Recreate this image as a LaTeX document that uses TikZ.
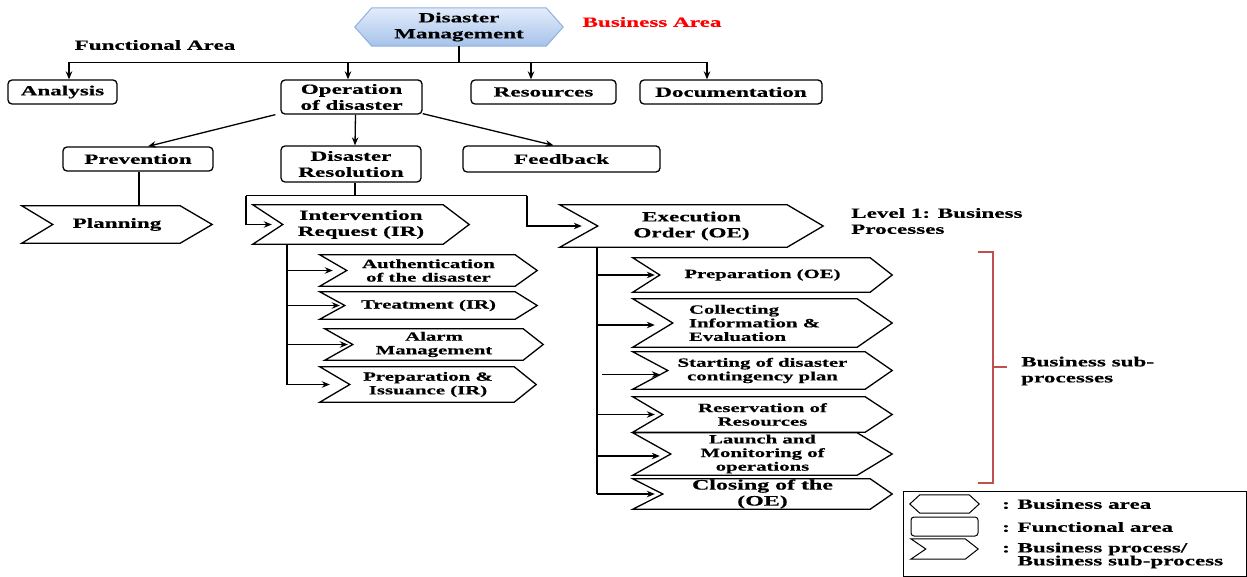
\documentclass[tikz,border=0pt]{standalone}
\usepackage{fontspec}
\setmainfont{Liberation Serif}[FakeStretch=1.65, BoldFeatures={FakeBold=0.5}]
\usetikzlibrary{arrows.meta,backgrounds}
\newcommand\mainf{\fontsize{14}{16}\selectfont\bfseries}
\newcommand\subf{\fontsize{12.6}{13.6}\selectfont\bfseries}
\newcommand\bigsubf{\fontsize{14.5}{16}\selectfont\bfseries}
\newcommand\legf{\fontsize{14}{13}\selectfont\bfseries}
\definecolor{hexfillA}{HTML}{E3EDFB}
\definecolor{hexfillB}{HTML}{A6C2EA}
\definecolor{hexline}{HTML}{8FB1DE}
\definecolor{brk}{HTML}{C0504D}
% chevron outline around a node: name, notch depth, tip depth
\newcommand\chevpath[3]{%
  \draw[shp] (#1.north west) -- ([xshift=-#3]#1.north east) -- (#1.east)
    -- ([xshift=-#3]#1.south east) -- (#1.south west) -- ([xshift=#2]#1.west) -- cycle;}
% hexagon outline around a node: name, depth, style
\newcommand\hexpath[3]{%
  \draw[#3] ([xshift=#2]#1.north west) -- ([xshift=-#2]#1.north east) -- (#1.east)
    -- ([xshift=-#2]#1.south east) -- ([xshift=#2]#1.south west) -- (#1.west) -- cycle;}
\tikzset{
  shp/.style={draw=black, line width=1.3pt, line join=miter},
  fbox/.style={draw=black, line width=1.3pt, rounded corners=4pt, align=center, inner sep=0pt, font=\mainf},
  pbox/.style={align=center, inner sep=0pt, font=\mainf},
  sbox/.style={align=center, inner sep=0pt, font=\subf},
  conn/.style={draw=black, line width=1.3pt},
  arr/.style={conn, -{Stealth[length=8pt,width=6.5pt]}},
  lbl/.style={inner sep=0pt, font=\mainf}
}
\begin{document}
\begin{tikzpicture}[x=1pt,y=-1pt]
\useasboundingbox (0,0) rectangle (1247,577);

% business area
\node[pbox, minimum width=208, minimum height=38] (dm) at (459,27) {Disaster\\Management};
\begin{scope}[on background layer]
  \hexpath{dm}{17}{top color=hexfillA, bottom color=hexfillB, draw=hexline, line width=1pt}
\end{scope}
\node[lbl, text=red] (balbl) at (652,22) {Business Area};
\node[lbl] (falbl) at (155,45) {Functional Area};

% functional areas
\node[fbox, minimum width=109, minimum height=24] (analysis) at (62.5,92) {Analysis};
\node[fbox, minimum width=141, minimum height=34] (oper) at (351.5,97) {Operation\\of disaster};
\node[fbox, minimum width=145, minimum height=24] (res) at (543.5,92) {Resources};
\node[fbox, minimum width=182, minimum height=24] (doc) at (731,92) {Documentation};

\node[fbox, minimum width=150, minimum height=24] (prev) at (138,159) {Prevention};
\node[fbox, minimum width=140, minimum height=36] (dres) at (351,164) {Disaster\\Resolution};
\node[fbox, minimum width=197, minimum height=26] (feed) at (561.5,159) {Feedback};

% connectors from business area
\draw[conn] (dm.south) -- ++(0,16) coordinate (dmj);
\draw[conn] ([xshift=6.5]analysis.north |- dmj) -- ([xshift=-24]doc.north |- dmj);
\draw[arr] ([xshift=6.5]analysis.north |- dmj) -- ([xshift=6.5]analysis.north);
\draw[arr] ([xshift=-3.5]oper.north |- dmj) -- ([xshift=-3.5]oper.north);
\draw[arr] ([xshift=-12.5]res.north |- dmj) -- ([xshift=-12.5]res.north);
\draw[arr] ([xshift=-24]doc.north |- dmj) -- ([xshift=-24]doc.north);

% operation of disaster
\draw[arr] ([xshift=-5]oper.south west) -- ([xshift=10]prev.north);
\draw[arr] ([xshift=4]oper.south) -- ([xshift=4]dres.north);
\draw[arr] ([yshift=1]oper.south east) -- ([xshift=-8]feed.north);

% business processes
\node[pbox, minimum width=190, minimum height=37] (plan) at (117,224.5) {Planning};
\chevpath{plan}{31}{32}
\node[pbox, minimum width=216, minimum height=39] (ir) at (361,224.5) {Intervention\\Request (IR)};
\chevpath{ir}{30}{26}
\node[pbox, minimum width=263, minimum height=42] (oe) at (691.5,226) {Execution\\Order (OE)};
\chevpath{oe}{38}{36}

\draw[conn] (prev.south -| 139,0) -- (plan.north -| 139,0);
\draw[conn] ([xshift=4]dres.south) -- ++(0,13) coordinate (drj);
\draw[arr] ([xshift=-109]drj) |- ([xshift=19]ir.west);
\draw[arr] ([xshift=172]drj) |- ([xshift=22]oe.west);
\draw[conn] ([xshift=-109]drj) -- ([xshift=172]drj);

% IR sub-processes
\node[sbox, minimum width=217, minimum height=31] (auth) at (428.5,270.5) {Authentication\\of the disaster};
\chevpath{auth}{27}{22}
\node[sbox, minimum width=217, minimum height=27] (treat) at (428.5,305.5) {Treatment (IR)};
\chevpath{treat}{25}{22}
\node[sbox, minimum width=218, minimum height=31] (alarm) at (434,344.5) {Alarm\\Management};
\chevpath{alarm}{28}{20}
\node[sbox, minimum width=216, minimum height=35] (prepir) at (428,384.5) {Preparation \&\\Issuance (IR)};
\chevpath{prepir}{30}{22}

\coordinate (irt) at ([xshift=-74]ir.south);
\draw[conn] (irt) -- (irt |- prepir.west);
\draw[arr] (irt |- auth.west) -- ([xshift=13]auth.west);
\draw[arr] (irt |- treat.west) -- ([xshift=20]treat.west);
\draw[arr] (irt |- alarm.west) -- ([xshift=23]alarm.west);
\draw[arr] (irt |- prepir.west) -- ([xshift=10]prepir.west);

% OE sub-processes
\node[sbox, minimum width=259, minimum height=34] (prepoe) at (762.5,275) {Preparation (OE)};
\chevpath{prepoe}{27}{22}
\node[inner sep=0pt, minimum width=259, minimum height=48] (coll) at (762.5,323) {};
\chevpath{coll}{40}{35}
\node[sbox, align=left] (colltext) at ([xshift=-8]coll.center) {Collecting\\Information \&\\Evaluation};
\node[sbox, minimum width=259, minimum height=37] (start) at (762.5,370.5) {Starting of disaster\\contingency plan};
\chevpath{start}{35}{27}
\node[sbox, minimum width=259, minimum height=35] (resv) at (762.5,414.5) {Reservation of\\Resources};
\chevpath{resv}{30}{27}
\node[sbox, minimum width=259, minimum height=42] (launch) at (762.5,454) {Launch and\\Monitoring of\\operations};
\chevpath{launch}{38}{35}
\node[sbox, font=\bigsubf, minimum width=259, minimum height=30] (closing) at (762.5,494) {Closing of the\\(OE)};
\chevpath{closing}{30}{22}

\coordinate (oet) at ([xshift=-94.5]oe.south);
\draw[conn] (oet) -- (oet |- closing.west);
\draw[arr] (oet |- prepoe.west) -- ([xshift=22]prepoe.west);
\draw[arr] ([yshift=-2]oet |- coll.west) -- ([xshift=22,yshift=-2]coll.west);
\draw[arr] ([xshift=5,yshift=-4]oet |- start.west) -- ([xshift=27,yshift=-4]start.west);
\draw[arr] (oet |- resv.west) -- ([xshift=22]resv.west);
\draw[arr] ([yshift=-2]oet |- launch.west) -- ([xshift=27,yshift=-2]launch.west);
\draw[arr] (oet |- closing.west) -- ([xshift=22]closing.west);

% level labels
\node[lbl, align=left, anchor=west] (lvl) at (851,221) {Level 1: Business\\Processes};
\draw[brk, line width=1.6pt] (978,252) -- (993,252) -- (993,483) -- (978,483);
\draw[brk, line width=1.6pt] (993,367) -- (1007,367);
\node[lbl, align=left, anchor=west] (subl) at (1021,371) {Business sub-\\processes};

% legend
\node[draw=black, line width=1.2pt, minimum width=343, minimum height=85, anchor=north west, inner sep=0pt] (legend) at (903,491) {};
\node[inner sep=0pt, minimum width=69, minimum height=18] (lhex) at (944.5,504) {};
\hexpath{lhex}{10}{shp, line width=1pt}
\node[draw=black, line width=1pt, rounded corners=3pt, inner sep=0pt, minimum width=67, minimum height=19] (lrect) at (944.5,526.5) {};
\node[inner sep=0pt, minimum width=67, minimum height=20] (lchev) at (944.5,549) {};
\draw[shp, line width=1pt] (lchev.north west) -- ([xshift=-13]lchev.north east) -- (lchev.east) -- ([xshift=-13]lchev.south east) -- (lchev.south west) -- ([xshift=15]lchev.west) -- cycle;
\node[lbl, font=\legf, anchor=west] (lt1) at (1002,504) {: Business area};
\node[lbl, font=\legf, anchor=west] (lt2) at (1002,527) {: Functional area};
\node[lbl, font=\legf, anchor=west, align=left] (lt3) at (1002,555.5) {: Business process/\\\phantom{: }Business sub-process};
\end{tikzpicture}
\end{document}
